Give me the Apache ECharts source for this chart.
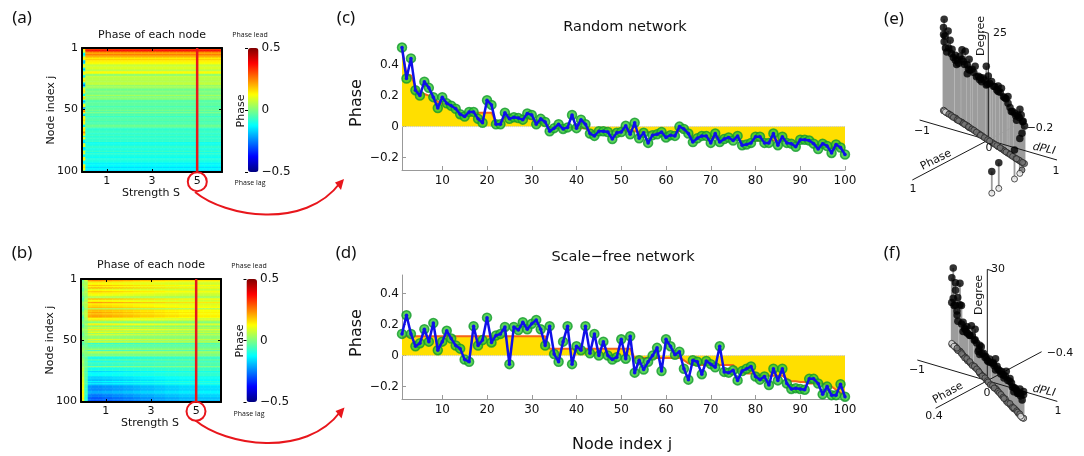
<!DOCTYPE html>
<html>
<head>
<meta charset="utf-8">
<style>html,body{margin:0;padding:0;background:#fff}#c{width:1084px;height:456px}</style>
<script src="https://cdn.jsdelivr.net/npm/echarts@6/dist/echarts.min.js"></script>
</head>
<body>
<div id="c"></div>
<script>
// Phase of each node at S = 5 (panels c, d)
const phaseRandom = [.51,.31,.44,.235,.2,.29,.25,.19,.12,.19,
.15,.135,.115,.08,.065,.095,.095,.05,.025,.17,
.14,.015,.015,.09,.05,.06,.055,.045,.085,.075,
.015,.05,.03,-.03,-.01,.015,-.015,-.005,.075,-.01,
.045,.015,-.045,-.06,-.03,-.03,-.035,-.08,-.04,-.035,
.005,-.05,.025,-.075,-.04,-.105,-.055,-.05,-.035,-.07,
-.055,-.06,0,-.015,-.045,-.1,-.075,-.06,-.06,-.105,
-.045,-.1,-.08,-.07,-.09,-.06,-.12,-.115,-.105,-.065,
-.065,-.105,-.105,-.045,-.12,-.065,-.105,-.11,-.13,-.085,
-.085,-.09,-.11,-.145,-.11,-.125,-.17,-.115,-.135,-.18];
const meanRandom = [.5,.34,.33,.26,.22,.21,.2,.19,.16,.15,
.14,.135,.13,.09,.07,.08,.09,.09,.09,.09,
.09,.03,.03,.055,.055,.055,.05,.05,.05,.05,
.03,.03,.02,-.005,-.005,-.005,-.005,-.005,-.005,-.01,
-.01,-.01,-.03,-.03,-.03,-.03,-.03,-.03,-.03,-.03,
-.03,-.03,-.03,-.035,-.035,-.035,-.04,-.04,-.04,-.04,
-.04,-.04,-.03,-.03,-.04,-.07,-.07,-.07,-.07,-.07,
-.07,-.07,-.07,-.07,-.07,-.08,-.1,-.1,-.1,-.09,
-.09,-.09,-.09,-.09,-.09,-.09,-.09,-.09,-.1,-.1,
-.1,-.1,-.11,-.13,-.13,-.13,-.14,-.14,-.14,-.16];
const phaseScaleFree = [.14,.26,.14,.06,.08,.17,.09,.21,.035,.09,
.16,.11,.065,.045,-.025,-.04,.19,.065,.1,.245,
.085,.13,.14,.185,-.055,.185,.165,.215,.17,.205,
.23,.17,.065,.19,.01,-.04,.09,.19,-.055,.06,
.035,.19,.015,.14,0,.09,0,-.025,-.01,.105,
-.02,.125,-.11,-.03,-.09,-.04,0,.05,-.1,.105,
.06,.005,.025,-.085,-.155,-.03,-.04,-.12,-.035,-.055,
-.075,.06,-.105,-.11,-.095,-.16,-.1,-.085,-.07,-.135,
-.155,-.135,-.19,-.085,-.16,-.085,-.18,-.215,-.21,-.215,
-.22,-.15,-.15,-.18,-.25,-.2,-.255,-.255,-.185,-.265];
const meanScaleFree = [.12,.125,.125,.125,.125,.125,.125,.125,.125,.125,
.125,.125,.125,.125,.125,.125,.125,.125,.125,.125,
.125,.125,.125,.125,.125,.125,.125,.125,.125,.125,
.125,.125,.125,.045,.045,.045,.045,.045,.045,.045,
.045,.045,.045,.045,.045,.045,.045,.045,.045,.045,
.045,.045,-.015,-.015,-.015,-.015,-.015,-.015,-.015,-.015,
-.015,-.015,-.015,-.03,-.05,-.06,-.06,-.06,-.06,-.06,
-.06,-.06,-.06,-.06,-.06,-.1,-.11,-.115,-.115,-.115,
-.13,-.13,-.13,-.13,-.13,-.13,-.15,-.165,-.165,-.17,
-.17,-.18,-.18,-.18,-.18,-.19,-.2,-.22,-.24,-.26];
// Heatmap: noisy first strength column and strength dependence of the bands
const firstColumnA = [.12,.14,.1,.08,-.12,-.14,-.1,.1,.12,.1,
-.15,-.2,-.14,.08,.1,.12,-.12,-.18,-.1,.1,
.12,.08,-.1,-.14,.1,.1,.16,.08,-.12,-.2,
-.26,-.12,.1,.08,.14,.16,.1,-.1,-.12,.1,
.18,.1,-.12,-.2,-.12,.1,.12,.1,-.24,-.12,
.2,.24,.12,-.1,-.2,.1,.14,.12,.16,.1,
.14,.1,-.12,-.14,.12,.16,.12,.18,.24,.16,
.12,-.1,.1,.12,-.12,-.14,-.16,.08,.1,.12,
-.14,-.16,-.12,.1,.06,.1,-.12,-.14,.1,.14,
.12,-.1,-.12,-.1,.1,.14,.16,.1,.12,-.12];
const firstColumnB = [-.02,-.02,0,.02,.03,.02,0,-.02,-.03,-.02,
0,.02,.02,0,-.02,-.04,-.05,-.03,0,.02,
.03,.02,-.02,-.04,-.05,-.03,0,.02,.03,0,
-.03,-.05,-.04,-.02,0,.02,0,-.03,-.04,-.02,
.02,.03,.02,0,-.02,-.03,-.02,0,.02,.02,
0,-.03,-.05,-.04,-.02,0,.02,.03,.03,.02,
0,-.02,-.03,-.02,0,.02,.03,.04,.03,.02,
.02,.03,.05,.06,.06,.05,.05,.06,.06,.07,
.08,.08,.09,.09,.1,.1,.1,.11,.12,.11,
.1,.12,.13,.14,.13,.12,.13,.14,.12,.1];
const bandGainA = [0,1,1,1,1,1,1,1,1,1,1,1,1,1,1,1,1,1,1,1,1,1,1,1,1,1,1,1,1,1,1,1,1,1,1,1,1,1,1,1];
const bandGainB = [0,.4,1.2,1.25,1.25,1.25,1.2,1.2,1.2,1.15,1.15,1.15,1.1,1.1,1.1,1.05,1.05,1,1,1,
1,.95,.95,.95,.9,.9,.9,.9,.85,.85,.85,.85,.85,.8,.8,.8,.8,.8,.8,.8];
const strengthTicks = [1,3,5];
const nodeTicks = [1,50,100];
const selectedStrength = 5;
// 3D stem plots: dPLI, phase and degree of each node
const dpliE = [-.93,-.94,-.85,-.95,-.92,-.93,-.81,-.76,-.87,-.56,-.49,-.7,-.6,-.7,-.66,-.56,-.4,-.45,-.39,-.28,-.21,-.45,-.04,-.18,-.11,0,-.14,.07,-.04,.11,.21,.28,.21,.32,.42,.42,.49,.56,.63,.67,.7,.74,.76,.85,.89,.94,.96,.98,
-.9,-.83,-.78,-.73,-.65,-.62,-.53,-.5,-.42,-.35,-.31,-.25,-.16,-.08,-.01,.03,.14,.18,.25,.35,.38,.46,.52,.59,.65,.72,.6];
const phaseE = [-.26,-.26,-.24,-.27,-.26,-.26,-.23,-.21,-.24,-.16,-.14,-.2,-.17,-.2,-.18,-.16,-.11,-.13,-.11,-.08,-.06,-.13,-.01,-.05,-.03,0,-.04,.02,-.01,.03,.06,.08,.06,.09,.12,.12,.14,.16,.18,.19,.2,.21,.21,.325,.39,.505,.73,.84,
-.25,-.23,-.22,-.2,-.18,-.17,-.15,-.14,-.12,-.1,-.09,-.07,-.04,-.02,0,.01,.04,.05,.07,.1,.11,.13,.15,.17,.18,.2,.17];
const degreeE = [21.5,19.5,19.3,17.7,17.6,16.2,17.4,15.7,14.3,17,17.2,14.7,15.2,13.5,12.9,14.8,16,14.3,13.5,15.2,13.4,12.2,17,12.8,13.7,15,12.6,14.2,12.6,13.4,14.2,14.2,12.9,12.5,13.3,11.7,10.3,10.4,10.5,12.1,11,9.8,8.8,8.6,8.2,6.8,6,5.1,
15,15.5,14.5,14,14,13.5,14.5,14,13.5,14,13.5,13,13.5,13.5,13,13.5,13.5,13,13,12.5,12.5,11,10.5,10,10,9.5,9];
const dpliF = [-.93,-.95,-.88,-.76,-.86,-.93,-.81,-.97,-.88,-.76,-.72,-.82,-.79,-.66,-.55,-.43,-.61,-.52,-.66,-.34,-.47,-.34,-.2,-.16,-.26,-.11,-.2,-.04,.07,.21,.16,.25,.21,.39,.53,.48,.62,.66,.75,.89,.98,.98,.96,.85,.73,
-.9,-.84,-.7,-.6,-.57,-.49,-.4,-.37,-.3,-.23,-.13,-.07,0,.03,.1,.13,.19,.28,.32,.36,.43,.46,.57,.6,.69,.71,.79,.82,.87,.92];
const phaseF = [-.24,-.24,-.23,-.2,-.22,-.24,-.21,-.25,-.23,-.2,-.19,-.21,-.2,-.17,-.14,-.11,-.16,-.13,-.17,-.09,-.12,-.09,-.05,-.04,-.07,-.03,-.05,-.01,.02,.05,.04,.06,.05,.1,.14,.12,.16,.17,.19,.23,.25,.25,.25,.22,.19,
-.23,-.22,-.18,-.15,-.15,-.13,-.1,-.1,-.08,-.06,-.03,-.02,0,.01,.03,.03,.05,.07,.08,.09,.11,.12,.15,.15,.18,.18,.2,.21,.22,.24];
const degreeF = [20.7,18,17.2,18.3,15.5,12.6,14,11,11.2,12.5,12.7,9.2,7.9,8.9,8.9,10.4,7.4,7.4,6.4,10.3,7.4,7.5,7.5,7.5,5.1,6.2,5,6.1,6.6,8,6.4,6.4,5,6.5,8.1,6.1,7,6.2,5.7,7,7.2,6.3,4.8,5.4,4.6,
11,10,8,8,7,7,8,7,7,6,6,5.5,5.5,5.5,6,6,6,6,6,5.5,6,5.5,6,6,5.5,5.5,5.5,5,5.5,5.5];

const FONT = '"DejaVu Sans"';
const nodeIndex = phaseRandom.map((_, i) => i + 1);
const pairs = vals => vals.map((v, i) => [nodeIndex[i], v]);
const columns = bandGainA.map((_, i) => String(i));

function heatCells(rows, means, firstColumn, gain) {
  const cells = [];
  rows.forEach((v, r) => gain.forEach((g, c) => {
    cells.push([c, r, c === 0 ? firstColumn[r] : (v + means[r]) / 2 * g]);
  }));
  return cells;
}

// oblique projections of the two stem plots, in grid units (1 unit = 1 px)
const projE = (d, p, k) => [108.3 + 68.7 * d - 76 * p, 75 - (20 * d + 40 * p) + 4.27 * k];
const projF = (d, p, k) => [107.3 + 70 * d - 129.3 * p, 69.3 - (20.7 * d + 69 * p) + 3.71 * k];

const grids = [
  {left:82,top:48,width:140,height:124},
  {left:248,top:48,width:10.5,height:124},
  {left:81,top:279,width:140,height:123},
  {left:246.5,top:279,width:10.5,height:123},
  {left:402,top:46,width:443,height:124},
  {left:402,top:275,width:443,height:124},
  {left:880,top:0,width:204,height:215},
  {left:880,top:235,width:204,height:215}
];
const xAxes = [], yAxes = [], series = [];
const tickText = {fontFamily:FONT,fontSize:11,color:'#111'};
const none = {show:false};

function addHeat(gridIndex, cells) {
  const xCat = xAxes.length; xAxes.push({gridIndex,type:'category',data:columns,show:false});
  const xVal = xAxes.length; xAxes.push({gridIndex,type:'value',min:-.1,max:6.1,position:'bottom',z:5,splitLine:none,
    axisLine:{onZero:false,lineStyle:{color:'#000',width:2}},
    axisTick:{inside:true,length:3,customValues:strengthTicks,lineStyle:{color:'#000'}},
    axisLabel:Object.assign({customValues:strengthTicks,margin:4},tickText)});
  xAxes.push({gridIndex,type:'value',min:-.1,max:6.1,position:'top',z:5,splitLine:none,
    axisLine:{onZero:false,lineStyle:{color:'#000',width:2}},
    axisTick:{inside:true,length:3,customValues:strengthTicks,lineStyle:{color:'#000'}},axisLabel:none});
  const yCat = yAxes.length; yAxes.push({gridIndex,type:'category',data:nodeIndex.map(String),inverse:true,show:false});
  const yVal = yAxes.length; yAxes.push({gridIndex,type:'value',inverse:true,min:.5,max:100.5,position:'left',z:5,splitLine:none,
    axisLine:{onZero:false,lineStyle:{color:'#000',width:2}},
    axisTick:{inside:true,length:3,customValues:nodeTicks,lineStyle:{color:'#000'}},
    axisLabel:Object.assign({customValues:nodeTicks,margin:4},tickText)});
  yAxes.push({gridIndex,type:'value',inverse:true,min:.5,max:100.5,position:'right',z:5,splitLine:none,
    axisLine:{onZero:false,lineStyle:{color:'#000',width:2}},
    axisTick:{inside:true,length:3,customValues:nodeTicks,lineStyle:{color:'#000'}},axisLabel:none});
  series.push({type:'heatmap',xAxisIndex:xCat,yAxisIndex:yCat,data:cells,progressive:0});
  series.push({type:'line',xAxisIndex:xVal,yAxisIndex:yVal,showSymbol:false,z:6,clip:false,
    lineStyle:{color:'#e8161c',width:2.5},
    data:[[selectedStrength,.5],[selectedStrength,100.5]]});
}
function addBarAxis(gridIndex) {
  xAxes.push({gridIndex,type:'value',min:0,max:1,show:false});
  yAxes.push({gridIndex,type:'value',min:-.5,max:.5,interval:.5,position:'right',z:6,splitLine:none,
    axisLine:{show:false},
    axisTick:{inside:true,length:3,lineStyle:{color:'#000',width:1}},
    axisLabel:{margin:3,fontFamily:FONT,fontSize:12,color:'#111',
      formatter:v => v < 0 ? '\u2212' + Math.abs(v) : String(v)}});
  series.push({type:'line',xAxisIndex:xAxes.length-1,yAxisIndex:yAxes.length-1,data:[],silent:true});
}
function addPhase(gridIndex, phase, mean) {
  const xTicks = [10,20,30,40,50,60,70,80,90,100];
  const yTicks = [-.2,0,.2,.4];
  const ix = xAxes.length, iy = yAxes.length;
  const axisCol = '#999';
  xAxes.push({gridIndex,type:'value',min:1,max:100,position:'bottom',splitLine:none,
    axisLine:{onZero:false,lineStyle:{color:axisCol,width:1}},
    axisTick:{inside:true,length:4,customValues:xTicks,lineStyle:{color:axisCol}},
    axisLabel:{customValues:xTicks,margin:5,fontFamily:FONT,fontSize:12,color:'#111'}});
  yAxes.push({gridIndex,type:'value',min:-.28,max:.52,position:'left',splitLine:none,
    axisLine:{onZero:false,lineStyle:{color:axisCol,width:1}},
    axisTick:{inside:true,length:4,customValues:yTicks,lineStyle:{color:axisCol}},
    axisLabel:{customValues:yTicks,margin:3,fontFamily:FONT,fontSize:12,color:'#111',
      formatter:v => v < 0 ? '\u2212' + Math.abs(v) : String(v)}});
  const base = {type:'line',xAxisIndex:ix,yAxisIndex:iy,showSymbol:false,clip:false};
  series.push(Object.assign({},base,{name:'mean',z:2,data:pairs(mean),
    lineStyle:{color:'#f4661a',width:2},
    areaStyle:{color:'#ffdf00',opacity:1,origin:0}}));
  series.push(Object.assign({},base,{name:'zero',z:3,data:[[1,0],[100,0]],
    lineStyle:{color:'#c8c8c8',width:1,type:'dotted'}}));
  series.push({type:'scatter',xAxisIndex:ix,yAxisIndex:iy,z:4,clip:false,symbolSize:9,
    itemStyle:{color:'#32c832',borderColor:'#139a2c',borderWidth:1.5},data:pairs(phase)});
  series.push(Object.assign({},base,{name:'phase',z:5,data:pairs(phase),
    showSymbol:true,symbol:'circle',symbolSize:3.5,itemStyle:{color:'#1010e8'},
    lineStyle:{color:'#1010e8',width:2.5}}));
}
function addStem(gridIndex, proj, dpli, phase, degree, axisSegs, axisSegsFaint) {
  const ix = xAxes.length, iy = yAxes.length;
  xAxes.push({gridIndex,type:'value',min:0,max:204,show:false});
  yAxes.push({gridIndex,type:'value',min:0,max:215,show:false});
  const tops = dpli.map((d,i) => proj(d,phase[i],degree[i]));
  const bases = dpli.map((d,i) => proj(d,phase[i],0));
  const stems = [];
  tops.forEach((t,i) => { stems.push(t, bases[i], [null,null]); });
  const segs = list => {
    const out = [];
    list.forEach(s => { out.push(proj(s[0],s[1],s[2]), proj(s[3],s[4],s[5]), [null,null]); });
    return out;
  };
  const base = {type:'line',xAxisIndex:ix,yAxisIndex:iy,showSymbol:false,clip:false,connectNulls:false};
  series.push(Object.assign({},base,{z:2,data:segs(axisSegsFaint),lineStyle:{color:'#bbb',width:1}}));
  series.push(Object.assign({},base,{z:3,data:stems,lineStyle:{color:'#9c9c9c',width:1.8}}));
  series.push(Object.assign({},base,{z:4,data:segs(axisSegs),lineStyle:{color:'#1a1a1a',width:1}}));
  series.push({type:'scatter',xAxisIndex:ix,yAxisIndex:iy,z:5,clip:false,symbolSize:6,
    itemStyle:{color:p => Math.abs(dpli[p.dataIndex]) > .88 ? '#e8e8e8' : '#777',borderColor:'#2a2a2a',borderWidth:1},data:bases});
  series.push({type:'scatter',xAxisIndex:ix,yAxisIndex:iy,z:6,clip:false,symbolSize:7.5,
    itemStyle:{color:'#000'},data:tops});
}

addHeat(0, heatCells(phaseRandom, meanRandom, firstColumnA, bandGainA));
addBarAxis(1);
addHeat(2, heatCells(phaseScaleFree, meanScaleFree, firstColumnB, bandGainB));
addBarAxis(3);
addPhase(4, phaseRandom, meanRandom);
addPhase(5, phaseScaleFree, meanScaleFree);
addStem(6, projE, dpliE, phaseE, degreeE,
  [[-1,0,0,1,0,0],[0,1,0,0,0,0],[0,0,0,0,0,25],[-.09,0,25,0,0,25]],
  [[0,0,0,0,-.46,0]]);
addStem(7, projF, dpliF, phaseF, degreeF,
  [[-1,0,0,1,0,0],[0,.4,0,0,-.42,0],[0,0,0,0,0,30],[0,0,30,.08,0,30]],
  []);

const jet = ['#00007f','#0000ff','#007fff','#00ffff','#7fff7f','#ffff00','#ff7f00','#ff0000','#7f0000'];
const heatSeriesA = series.findIndex(s => s.type === 'heatmap');
const heatSeriesB = series.findIndex((s,i) => s.type === 'heatmap' && i > heatSeriesA);
const visualMaps = [[heatSeriesA,248,48,124],[heatSeriesB,246.5,279,123]].map(v => ({
  type:'continuous',seriesIndex:v[0],min:-.5,max:.5,left:v[1],top:v[2],
  itemWidth:10.5,itemHeight:v[3],padding:0,text:null,calculable:false,hoverLink:false,
  inRange:{color:jet}
}));

function txt(text,x,y,size,o) {
  o = o || {};
  return {type:'text',x,y,rotation:o.rot||0,z:20,silent:true,
    style:{text,fill:o.fill||'#111',textAlign:o.align||'center',textVerticalAlign:'middle',
      font:(o.italic?'italic ':'')+size+'px '+(o.font||FONT)}};
}
const RED = '#e8161c';
const LETTER = '"Noto Sans"';
function arrowParts(dx, dy) {
  return [
    {type:'bezierCurve',silent:true,z:19,shape:{x1:195+dx,y1:192+dy,cpx1:225+dx,cpy1:217+dy,cpx2:305+dx,cpy2:230+dy,x2:340+dx,y2:183+dy},
      style:{stroke:RED,lineWidth:2,fill:null}},
    {type:'polygon',silent:true,z:19,shape:{points:[[344+dx,179+dy],[335+dx,182.5+dy],[341+dx,190+dy]]},style:{fill:RED}}
  ];
}
const elements = [
  txt('(a)',22,18,17,{font:LETTER}), txt('(b)',22,253,17,{font:LETTER}),
  txt('(c)',346,18,17,{font:LETTER}), txt('(d)',346,253,17,{font:LETTER}),
  txt('(e)',894,19,17,{font:LETTER}), txt('(f)',892,253,17,{font:LETTER}),
  txt('Phase of each node',152,35,11), txt('Phase of each node',151,265,11),
  txt('Strength S',151,193,11), txt('Strength S',150,423,11),
  txt('Node index j',51,110,11,{rot:Math.PI/2}), txt('Node index j',50,340,11,{rot:Math.PI/2}),
  txt('Phase',241,111,11,{rot:Math.PI/2}), txt('Phase',240,341,11,{rot:Math.PI/2}),
  txt('Phase lead',250,35,7,{font:'"Open Sans"'}), txt('Phase lag',250,183,7,{font:'"Open Sans"'}),
  txt('Phase lead',249,266,7,{font:'"Open Sans"'}), txt('Phase lag',249,414,7,{font:'"Open Sans"'}),
  txt('Random network',625,27,14.5), txt('Scale\u2212free network',623,257,14.5),
  txt('Phase',357,103,16,{rot:Math.PI/2}), txt('Phase',357,333,16,{rot:Math.PI/2}),
  txt('Node index j',622,445,16),
  txt('\u22121',922,131,11), txt('0',989,148,11), txt('\u22120.2',1040,128,11), txt('1',1056,171,11),
  txt('1',913,189,11), txt('25',1000,33,11), txt('Degree',981,36,11,{rot:Math.PI/2}),
  txt('Phase',936,160,11,{rot:Math.atan(.5)}), txt('dPLI',1044,149,11,{rot:-.2,italic:true}),
  txt('\u22121',917,370,11), txt('0',987,393,11), txt('\u22120.4',1060,353,11), txt('1',1058,411,11),
  txt('0.4',934,416,11), txt('30',998,269,11), txt('Degree',979,295,11,{rot:Math.PI/2}),
  txt('Phase',948,393,11,{rot:Math.atan(.55)}), txt('dPLI',1044,391,11,{rot:-.2,italic:true}),
  {type:'circle',silent:true,z:19,shape:{cx:197.3,cy:181.7,r:9.5},style:{stroke:RED,lineWidth:2,fill:null}},
  {type:'circle',silent:true,z:19,shape:{cx:196,cy:411.3,r:9.5},style:{stroke:RED,lineWidth:2,fill:null}}
].concat(arrowParts(0,0), arrowParts(.5,228.5));

const chart = echarts.init(document.getElementById('c'), null, {renderer:'canvas'});
chart.setOption({
  animation:false,backgroundColor:'#fff',
  grid:grids,xAxis:xAxes,yAxis:yAxes,visualMap:visualMaps,series,
  graphic:{elements}
});
</script>
</body>
</html>
